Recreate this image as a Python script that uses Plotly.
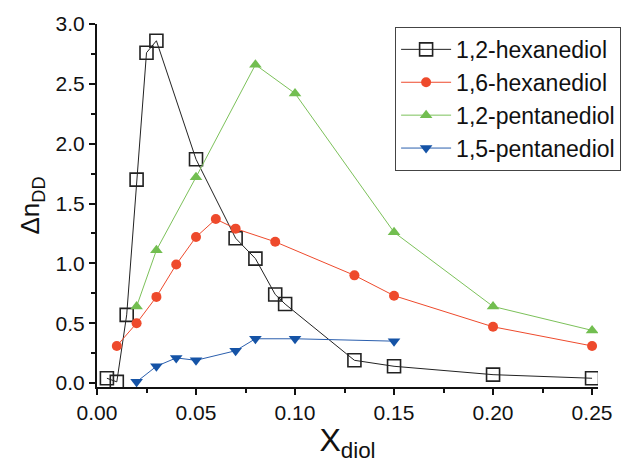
import plotly.graph_objects as go

hex12_x = [0.005, 0.01, 0.015, 0.02, 0.025, 0.03, 0.05, 0.07, 0.08, 0.09, 0.095, 0.13, 0.15, 0.20, 0.25]
hex12_y = [0.04, 0.01, 0.57, 1.70, 2.76, 2.86, 1.87, 1.21, 1.04, 0.74, 0.66, 0.19, 0.14, 0.07, 0.04]

hex16_x = [0.01, 0.02, 0.03, 0.04, 0.05, 0.06, 0.07, 0.09, 0.13, 0.15, 0.20, 0.25]
hex16_y = [0.31, 0.50, 0.72, 0.99, 1.22, 1.37, 1.29, 1.18, 0.90, 0.73, 0.47, 0.31]

pen12_x = [0.02, 0.03, 0.05, 0.08, 0.10, 0.15, 0.20, 0.25]
pen12_y = [0.64, 1.11, 1.72, 2.66, 2.42, 1.26, 0.64, 0.44]

pen15_x = [0.02, 0.03, 0.04, 0.05, 0.07, 0.08, 0.10, 0.15]
pen15_y = [0.01, 0.14, 0.21, 0.19, 0.27, 0.37, 0.37, 0.35]

names = ["1,2-hexanediol", "1,6-hexanediol", "1,2-pentanediol", "1,5-pentanediol"]

fig = go.Figure()
fig.add_trace(go.Scatter(x=hex12_x, y=hex12_y, name=names[0], mode="lines+markers",
                         line=dict(color="#222222", width=1),
                         marker=dict(symbol="square-open", size=13, color="#222222", line=dict(width=1.6))))
fig.add_trace(go.Scatter(x=hex16_x, y=hex16_y, name=names[1], mode="lines+markers",
                         line=dict(color="#ee4a2c", width=1),
                         marker=dict(symbol="circle", size=10, color="#ee4a2c")))
fig.add_trace(go.Scatter(x=pen12_x, y=pen12_y, name=names[2], mode="lines+markers",
                         line=dict(color="#7cc15a", width=1),
                         marker=dict(symbol="triangle-up", size=11, color="#72be50")))
fig.add_trace(go.Scatter(x=pen15_x, y=pen15_y, name=names[3], mode="lines+markers",
                         line=dict(color="#2b5fae", width=1),
                         marker=dict(symbol="triangle-down", size=11, color="#1553a6")))

axis_common = dict(showline=True, linecolor="#111111", linewidth=2, ticks="outside",
                   ticklen=6, tickwidth=2, tickcolor="#111111", showgrid=False, zeroline=False,
                   tickfont=dict(family="Arial, Liberation Sans", size=21, color="#111111"))

fig.update_xaxes(range=[0, 0.253], tickvals=[0, 0.05, 0.10, 0.15, 0.20, 0.25],
                 ticktext=["0.00", "0.05", "0.10", "0.15", "0.20", "0.25"],
                 minor=dict(dtick=0.025, tick0=0, ticks="outside", ticklen=4, tickwidth=1.5, tickcolor="#111111"),
                 title=dict(text="X<sub>diol</sub>", font=dict(family="Arial, Liberation Sans", size=32, color="#111111"), standoff=4),
                 **axis_common)
fig.update_yaxes(range=[-0.033, 3.0], tickvals=[0, 0.5, 1.0, 1.5, 2.0, 2.5, 3.0],
                 ticktext=["0.0", "0.5", "1.0", "1.5", "2.0", "2.5", "3.0"],
                 minor=dict(dtick=0.25, tick0=0, ticks="outside", ticklen=4, tickwidth=1.5, tickcolor="#111111"),
                 title=dict(text="Δn<sub>DD</sub>", font=dict(family="Arial, Liberation Sans", size=26, color="#111111"), standoff=8),
                 **axis_common)

fig.update_layout(width=642, height=463, paper_bgcolor="white", plot_bgcolor="white",
                  margin=dict(l=97, r=44, t=21, b=74),
                  legend=dict(xref="paper", yref="paper", x=0.595, y=0.992,
                              xanchor="left", yanchor="top", bordercolor="#444444", borderwidth=1,
                              bgcolor="white", font=dict(family="Arial, Liberation Sans", size=23, color="#111111"),
                              itemwidth=50, tracegroupgap=0))

fig.write_html("out.html")
